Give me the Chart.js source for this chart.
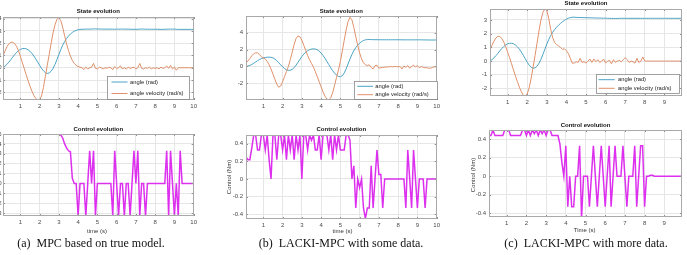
<!DOCTYPE html>
<html><head><meta charset="utf-8">
<script src="https://cdn.jsdelivr.net/npm/chart.js@4/dist/chart.umd.min.js"></script>
<style>
html,body{margin:0;padding:0;background:#fff;width:687px;height:255px;overflow:hidden;position:relative}
canvas{position:absolute}
.cap{position:absolute;top:235.5px;font-family:"Liberation Serif","Times New Roman",serif;font-size:12px;color:#111;white-space:nowrap;transform:translateX(-50%)}
</style></head><body>
<canvas id="aTop"></canvas><canvas id="aBot"></canvas>
<canvas id="bTop"></canvas><canvas id="bBot"></canvas>
<canvas id="cTop"></canvas><canvas id="cBot"></canvas>
<div class="cap" style="left:91px">(a)&nbsp; MPC based on true model.</div>
<div class="cap" style="left:341px">(b)&nbsp; LACKI-MPC with some data.</div>
<div class="cap" style="left:586px">(c)&nbsp; LACKI-MPC with more data.</div>
<script>
// ---------- data ----------
const timeSec = [0.1,0.2,0.3,0.4,0.5,0.6,0.7,0.8,0.9,1.0,1.1,1.2,1.3,1.4,1.5,1.6,1.7,1.8,1.9,2.0,
2.1,2.2,2.3,2.4,2.5,2.6,2.7,2.8,2.9,3.0,3.1,3.2,3.3,3.4,3.5,3.6,3.7,3.8,3.9,4.0,
4.1,4.2,4.3,4.4,4.5,4.6,4.7,4.8,4.9,5.0,5.1,5.2,5.3,5.4,5.5,5.6,5.7,5.8,5.9,6.0,
6.1,6.2,6.3,6.4,6.5,6.6,6.7,6.8,6.9,7.0,7.1,7.2,7.3,7.4,7.5,7.6,7.7,7.8,7.9,8.0,
8.1,8.2,8.3,8.4,8.5,8.6,8.7,8.8,8.9,9.0,9.1,9.2,9.3,9.4,9.5,9.6,9.7,9.8,9.9,10.0];

// (a) MPC based on true model
const angleA = [0.00,0.12,0.27,0.45,0.65,0.86,1.06,1.24,1.39,1.50,
1.56,1.58,1.55,1.47,1.34,1.17,0.96,0.72,0.46,0.20,
-0.05,-0.25,-0.40,-0.47,-0.42,-0.28,-0.05,0.27,0.66,1.08,
1.48,1.84,2.14,2.39,2.59,2.75,2.88,2.98,3.05,3.10,
3.13,3.14,3.14,3.15,3.15,3.15,3.16,3.17,3.17,3.16,
3.16,3.16,3.15,3.15,3.15,3.15,3.15,3.15,3.14,3.15,
3.15,3.15,3.16,3.15,3.15,3.15,3.14,3.14,3.14,3.13,
3.14,3.15,3.16,3.15,3.15,3.14,3.14,3.14,3.14,3.14,
3.14,3.14,3.13,3.13,3.14,3.14,3.15,3.15,3.15,3.15,
3.14,3.13,3.13,3.13,3.13,3.13,3.13,3.13,3.13,3.13];
const velA = [0.95,1.35,1.70,1.95,2.07,2.08,1.98,1.75,1.40,0.95,
0.45,-0.05,-0.55,-1.05,-1.50,-1.90,-2.25,-2.50,-2.62,-2.60,
-2.30,-1.60,-0.70,0.20,1.10,2.00,2.85,3.50,3.95,4.10,
3.85,3.30,2.60,1.95,1.40,0.95,0.60,0.35,0.20,0.10,
0.05,0.00,-0.15,0.05,-0.10,0.00,0.05,0.35,-0.05,-0.10,
0.05,0.00,-0.10,0.00,-0.05,0.05,0.00,-0.15,0.10,-0.05,
0.00,0.15,-0.10,0.00,-0.10,0.05,-0.05,0.00,0.05,-0.10,
0.00,0.35,-0.05,-0.10,0.00,-0.05,0.05,-0.10,0.00,-0.05,
0.00,-0.10,0.05,-0.05,0.00,0.15,-0.05,0.20,-0.10,0.05,
-0.20,0.00,0.00,0.00,0.00,0.00,0.00,0.00,0.00,0.00];
const ctrlA = [0.50,0.50,0.50,0.50,0.50,0.50,0.50,0.50,0.50,0.50,
0.50,0.50,0.50,0.50,0.50,0.50,0.50,0.50,0.50,0.50,
0.50,0.50,0.50,0.50,0.50,0.50,0.50,0.50,0.50,0.50,
0.49,0.46,0.40,0.36,0.33,0.32,0.05,0.00,0.00,-0.33,
0.00,0.00,0.00,-0.33,0.00,0.33,0.00,0.33,-0.33,0.00,
0.00,0.00,0.00,0.00,0.00,0.00,0.00,-0.33,0.33,0.00,
-0.33,0.00,0.00,-0.33,0.00,0.00,-0.33,0.00,0.33,0.00,
0.33,-0.33,0.00,0.00,-0.33,0.00,0.00,0.00,0.00,0.00,
0.00,0.00,0.00,0.00,0.00,0.33,-0.33,0.33,0.00,-0.33,
0.00,-0.33,0.33,0.00,0.00,0.00,0.00,0.00,0.00,0.00];

// (b) LACKI-MPC with some data
const angleB = [0.00,0.05,0.13,0.24,0.38,0.53,0.68,0.82,0.93,1.01,
1.06,1.09,1.10,1.08,1.01,0.88,0.68,0.44,0.19,-0.04,
-0.24,-0.39,-0.46,-0.44,-0.33,-0.13,0.15,0.49,0.84,1.17,
1.46,1.69,1.86,1.98,2.05,2.08,2.06,1.97,1.81,1.58,
1.30,0.97,0.60,0.22,-0.16,-0.50,-0.79,-1.02,-1.17,-1.22,
-1.08,-0.76,-0.28,0.30,0.88,1.42,1.87,2.23,2.52,2.75,
2.93,3.06,3.14,3.17,3.18,3.17,3.16,3.16,3.16,3.15,
3.15,3.15,3.15,3.15,3.15,3.15,3.15,3.15,3.15,3.15,
3.15,3.14,3.14,3.14,3.14,3.14,3.14,3.14,3.14,3.14,
3.14,3.14,3.13,3.13,3.13,3.12,3.12,3.12,3.12,3.12];
const velB = [0.40,0.65,0.95,1.25,1.50,1.62,1.60,1.40,1.15,1.00,
0.90,0.60,0.20,-0.30,-0.90,-1.50,-2.10,-2.45,-2.30,-1.80,
-1.20,-0.60,0.00,0.80,1.70,2.60,3.30,3.60,3.50,3.10,
2.50,1.90,1.30,0.80,0.35,-0.05,-0.60,-1.20,-1.80,-2.40,
-3.00,-3.50,-3.85,-3.90,-3.70,-3.10,-2.20,-1.30,-0.40,0.60,
1.80,3.10,4.30,5.30,5.80,5.50,4.60,3.50,2.50,1.60,
0.90,0.45,0.20,0.10,0.20,-0.10,-0.30,0.10,0.15,-0.20,
-0.15,-0.10,-0.10,-0.05,-0.05,0.00,-0.05,0.00,0.00,-0.05,
0.00,-0.30,0.05,-0.10,0.10,-0.20,0.00,0.15,-0.05,0.10,
-0.15,0.00,-0.10,-0.15,-0.15,-0.20,-0.20,-0.10,-0.05,0.00];
const ctrlB = [0.25,0.22,0.22,0.35,0.50,0.50,0.33,0.33,0.50,0.50,
0.33,0.50,0.22,0.00,0.50,0.50,0.22,0.50,0.50,0.33,
0.50,0.22,0.50,0.33,0.50,0.22,0.50,0.33,0.50,0.00,
0.50,0.50,0.33,0.50,0.44,0.50,0.33,0.33,0.50,0.22,
0.50,0.50,0.50,0.33,0.50,0.22,0.50,0.33,0.50,0.33,
0.33,0.33,0.50,0.50,0.44,0.00,0.15,-0.33,0.00,-0.10,
0.00,-0.33,-0.45,-0.33,-0.33,0.15,-0.33,0.00,0.33,0.05,
0.05,-0.33,0.00,0.00,0.00,0.00,0.00,0.00,0.00,0.00,
0.00,0.00,0.00,-0.33,0.33,0.00,-0.33,0.33,0.00,-0.33,
0.00,0.00,0.00,-0.33,0.00,0.00,0.00,0.00,0.00,0.00];

// (c) LACKI-MPC with more data (t = 0.1 .. 9.9)
const angleC = [0.00,0.10,0.23,0.39,0.56,0.74,0.91,1.06,1.18,1.26,
1.30,1.30,1.26,1.17,1.04,0.87,0.66,0.42,0.17,-0.08,
-0.30,-0.45,-0.52,-0.50,-0.38,-0.16,0.13,0.48,0.86,1.24,
1.58,1.87,2.10,2.30,2.47,2.62,2.75,2.87,2.97,3.06,
3.13,3.17,3.20,3.20,3.19,3.18,3.18,3.17,3.17,3.16,
3.16,3.16,3.15,3.15,3.14,3.14,3.14,3.13,3.13,3.13,
3.12,3.12,3.11,3.11,3.11,3.11,3.12,3.12,3.12,3.12,
3.12,3.12,3.12,3.12,3.12,3.12,3.12,3.12,3.12,3.12,
3.12,3.12,3.12,3.12,3.12,3.12,3.12,3.12,3.12,3.12,
3.12,3.12,3.12,3.12,3.12,3.12,3.12,3.12,3.12];
const velC = [0.80,1.15,1.45,1.68,1.80,1.80,1.65,1.40,1.05,0.65,
0.25,-0.20,-0.65,-1.10,-1.50,-1.90,-2.25,-2.50,-2.55,-2.40,
-1.95,-1.25,-0.45,0.40,1.30,2.20,3.00,3.55,3.80,3.70,
3.10,2.30,1.70,1.35,1.20,1.10,1.00,0.85,0.90,0.75,
0.55,0.20,-0.15,-0.15,-0.05,-0.10,0.20,-0.10,-0.05,-0.15,
0.00,0.15,-0.10,0.15,-0.05,0.10,-0.10,0.00,0.15,-0.15,
0.00,0.05,-0.20,0.10,-0.10,0.00,0.05,-0.05,0.10,0.25,
0.10,-0.10,0.00,-0.05,-0.15,0.20,-0.10,0.00,0.30,0.00,
0.00,0.00,0.00,0.00,0.00,0.00,0.00,0.00,0.00,0.00,
0.00,0.00,0.00,0.00,0.00,0.00,0.00,0.00,0.00];
const ctrlC = [0.44,0.44,0.50,0.44,0.44,0.44,0.44,0.44,0.50,0.50,
0.50,0.44,0.44,0.44,0.44,0.44,0.44,0.50,0.50,0.44,
0.50,0.44,0.50,0.46,0.50,0.44,0.50,0.46,0.50,0.44,
0.50,0.50,0.44,0.44,0.44,0.44,0.35,0.15,0.00,0.33,
-0.33,0.00,-0.33,-0.33,0.00,0.00,0.33,-0.45,0.00,0.00,
0.00,-0.33,0.00,0.33,0.00,-0.33,0.00,0.33,0.00,-0.33,
0.00,0.33,-0.33,0.00,0.33,0.00,0.00,0.00,0.33,0.00,
-0.33,0.00,0.00,0.00,0.33,-0.33,0.00,0.33,0.33,-0.33,
0.00,0.00,0.01,0.01,0.00,0.00,0.00,0.00,0.00,0.00,
0.00,0.00,0.00,0.00,0.00,0.00,0.00,0.00,0.00];

// tick labels
const xTicks10 = [1,2,3,4,5,6,7,8,9,10];
const xTicks9 = [1,2,3,4,5,6,7,8,9];
const yTicksStateA = [-2,-1,0,1,2,3,4];
const yTicksCtrlA = [-0.3,-0.2,-0.1,0,0.1,0.2,0.3,0.4,0.5];
const yTicksStateB = [-2,0,2,4];
const yTicksCtrl = [-0.4,-0.2,0,0.2,0.4];
const yTicksStateC = [-2,-1,0,1,2,3];
const seriesLabels = ['angle (rad)','angle velocity (rad/s)','control'];

// ---------- styling ----------
const TEAL = '#4aa3c4', ORANGE = '#e0906a', MAG = '#dd30ee';
const SANS = '"Liberation Sans", Arial, sans-serif';

const matlabPlugin = {
  id: 'matlab',
  afterDatasetsDraw(chart, args, o) {
    const {ctx, chartArea: a} = chart;
    const ox = o.ox, oy = o.oy;
    ctx.save();
    // inward tick marks
    ctx.strokeStyle = '#8f8f8f'; ctx.lineWidth = 1;
    const xs = chart.scales.x, ys = chart.scales.y;
    ctx.beginPath();
    xs.ticks.forEach(t => {
      const px = Math.round(xs.getPixelForValue(t.value)) + 0.5;
      ctx.moveTo(px, a.bottom); ctx.lineTo(px, a.bottom - 2);
      ctx.moveTo(px, a.top); ctx.lineTo(px, a.top + 2);
    });
    ys.ticks.forEach(t => {
      const py = Math.round(ys.getPixelForValue(t.value)) + 0.5;
      ctx.moveTo(a.left, py); ctx.lineTo(a.left + 2, py);
      ctx.moveTo(a.right, py); ctx.lineTo(a.right - 2, py);
    });
    ctx.stroke();
    ctx.strokeStyle = '#a9a9a9'; ctx.lineWidth = 1;
    ctx.strokeRect(Math.round(a.left) + 0.5, Math.round(a.top) + 0.5,
                   Math.round(a.right - a.left) - 1, Math.round(a.bottom - a.top) - 1);
    ctx.fillStyle = '#111';
    ctx.textBaseline = 'middle';
    if (o.title) {
      ctx.font = 'bold 6px ' + SANS; ctx.textAlign = 'center';
      ctx.fillText(o.title, (a.left + a.right) / 2, o.titleY - oy);
    }
    if (o.xlabel) {
      ctx.font = '6px ' + SANS; ctx.fillStyle = '#333'; ctx.textAlign = 'center';
      ctx.fillText(o.xlabel, o.xlabelX - ox, o.xlabelY - oy);
    }
    if (o.ylabel) {
      ctx.save();
      ctx.font = '6px ' + SANS; ctx.fillStyle = '#333'; ctx.textAlign = 'center';
      ctx.translate(o.ylabelX - ox, o.ylabelY - oy); ctx.rotate(-Math.PI / 2);
      ctx.fillText(o.ylabel, 0, 0);
      ctx.restore();
    }
    if (o.legend) {
      const L = o.legend;
      const x0 = L.box[0] - ox, y0 = L.box[1] - oy, x1 = L.box[2] - ox, y1 = L.box[3] - oy;
      ctx.fillStyle = '#fff'; ctx.fillRect(x0, y0, x1 - x0, y1 - y0);
      ctx.strokeStyle = '#8a8a8a'; ctx.lineWidth = 0.8;
      ctx.strokeRect(Math.round(x0) + 0.5, Math.round(y0) + 0.5, Math.round(x1 - x0), Math.round(y1 - y0));
      chart.data.datasets.forEach((ds, i) => {
        const y = L.items[i] - oy;
        ctx.strokeStyle = ds.borderColor; ctx.lineWidth = 1;
        ctx.beginPath(); ctx.moveTo(L.line[0] - ox, y); ctx.lineTo(L.line[1] - ox, y); ctx.stroke();
        ctx.fillStyle = '#222'; ctx.font = '5.8px ' + SANS; ctx.textAlign = 'left';
        ctx.fillText(ds.label, L.textX - ox, y);
      });
    }
    ctx.restore();
  }
};

function pts(xs, ys) { return ys.map((y, i) => ({x: xs[i], y: y})); }

function makeChart(id, g) {
  const [L, T, R, B] = g.plot;
  const cl = L - g.yw, ct = T - g.tp;
  const cw = g.yw + (R - L) + g.rp, ch = g.tp + (B - T) + g.bh;
  const cv = document.getElementById(id);
  cv.width = cw; cv.height = ch;
  cv.style.left = cl + 'px'; cv.style.top = ct + 'px';
  cv.style.width = cw + 'px'; cv.style.height = ch + 'px';
  const tickFont = {family: SANS, size: 6};
  const fmt = v => String(Math.round(v * 100) / 100);
  g.extra.ox = cl; g.extra.oy = ct;
  return new Chart(cv, {
    type: 'line',
    data: {datasets: g.datasets},
    plugins: [matlabPlugin],
    options: {
      responsive: false, animation: false, devicePixelRatio: 1,
      layout: {padding: {left: 0, top: g.tp, right: g.rp, bottom: 0}},
      elements: {point: {radius: 0}, line: {tension: 0}},
      plugins: {legend: {display: false}, tooltip: {enabled: false}, matlab: g.extra},
      scales: {
        x: {
          type: 'linear', min: g.xmin, max: g.xmax,
          afterBuildTicks: s => { s.ticks = g.xticks.map(v => ({value: v})); },
          afterFit: s => { s.height = g.bh; },
          grid: {color: '#e6e6e6', lineWidth: 1, drawTicks: false},
          border: {display: false},
          ticks: {font: tickFont, color: '#4a4a4a', padding: 3, maxRotation: 0, autoSkip: false, callback: fmt}
        },
        y: {
          type: 'linear', min: g.ymin, max: g.ymax,
          afterBuildTicks: s => { s.ticks = g.yticks.map(v => ({value: v})); },
          afterFit: s => { s.width = g.yw; },
          grid: {color: '#e6e6e6', lineWidth: 1, drawTicks: false},
          border: {display: false},
          ticks: {font: tickFont, color: '#4a4a4a', padding: g.ypad || 3, autoSkip: false, callback: fmt}
        }
      }
    }
  });
}

function stateSets(t, ang, vel) {
  return [
    {label: seriesLabels[0], data: pts(t, ang), borderColor: TEAL, borderWidth: 1, order: 1},
    {label: seriesLabels[1], data: pts(t, vel), borderColor: ORANGE, borderWidth: 1, order: 0}
  ];
}
function ctrlSets(t, u) {
  return [{label: seriesLabels[2], data: pts(t, u), borderColor: MAG, borderWidth: 1.5}];
}

makeChart('aTop', {plot: [3, 17, 196, 100], yw: 20, tp: 14, rp: 4, bh: 12, ypad: 1.5,
  xmin: 0.1, xmax: 10, ymin: -2.63, ymax: 4.14, xticks: xTicks10, yticks: yTicksStateA,
  datasets: stateSets(timeSec, angleA, velA),
  extra: {title: 'State evolution', titleY: 11.5,
    legend: {box: [107, 76, 189, 99], items: [82, 93.5], line: [111.5, 127.5], textX: 130}}});

makeChart('aBot', {plot: [3, 134, 196, 216], yw: 20, tp: 12, rp: 4, bh: 22, ypad: 1.5,
  xmin: 0.1, xmax: 10, ymin: -0.33, ymax: 0.5, xticks: xTicks10, yticks: yTicksCtrlA,
  datasets: ctrlSets(timeSec, ctrlA),
  extra: {title: 'Control evolution', titleY: 129, xlabel: 'time (s)', xlabelX: 97, xlabelY: 231}});

makeChart('bTop', {plot: [246, 16, 439, 100], yw: 20, tp: 14, rp: 4, bh: 12,
  xmin: 0.1, xmax: 10, ymin: -3.95, ymax: 5.95, xticks: xTicks10, yticks: yTicksStateB,
  datasets: stateSets(timeSec, angleB, velB),
  extra: {title: 'State evolution', titleY: 11,
    legend: {box: [354, 81, 437, 99], items: [86.3, 94.7], line: [357.3, 373], textX: 375.3}}});

makeChart('bBot', {plot: [246, 135, 439, 219], yw: 22, tp: 12, rp: 4, bh: 20,
  xmin: 0.1, xmax: 10, ymin: -0.455, ymax: 0.5, xticks: xTicks10, yticks: yTicksCtrl,
  datasets: ctrlSets(timeSec, ctrlB),
  extra: {title: 'Control evolution', titleY: 129, xlabel: 'time (s)', xlabelX: 342.5, xlabelY: 231.5,
    ylabel: 'Control (Nm)', ylabelX: 229.5, ylabelY: 177}});

makeChart('cTop', {plot: [490, 9, 682, 96], yw: 20, tp: 9, rp: 4, bh: 12,
  xmin: 0.1, xmax: 9.9, ymin: -2.55, ymax: 3.8, xticks: xTicks9, yticks: yTicksStateC,
  datasets: stateSets(timeSec, angleC, velC),
  extra: {title: 'State evolution', titleY: 3.5,
    legend: {box: [596, 74, 679, 93], items: [79.7, 88.3], line: [598.5, 614.7], textX: 618}}});

makeChart('cBot', {plot: [489, 130, 682, 217], yw: 22, tp: 12, rp: 4, bh: 20,
  xmin: 0.1, xmax: 9.9, ymin: -0.44, ymax: 0.5, xticks: xTicks9, yticks: yTicksCtrl,
  datasets: ctrlSets(timeSec, ctrlC),
  extra: {title: 'Control evolution', titleY: 125, xlabel: 'Time (s)', xlabelX: 584.7, xlabelY: 230,
    ylabel: 'Control (Nm)', ylabelX: 473.5, ylabelY: 175}});
</script>
</body></html>
